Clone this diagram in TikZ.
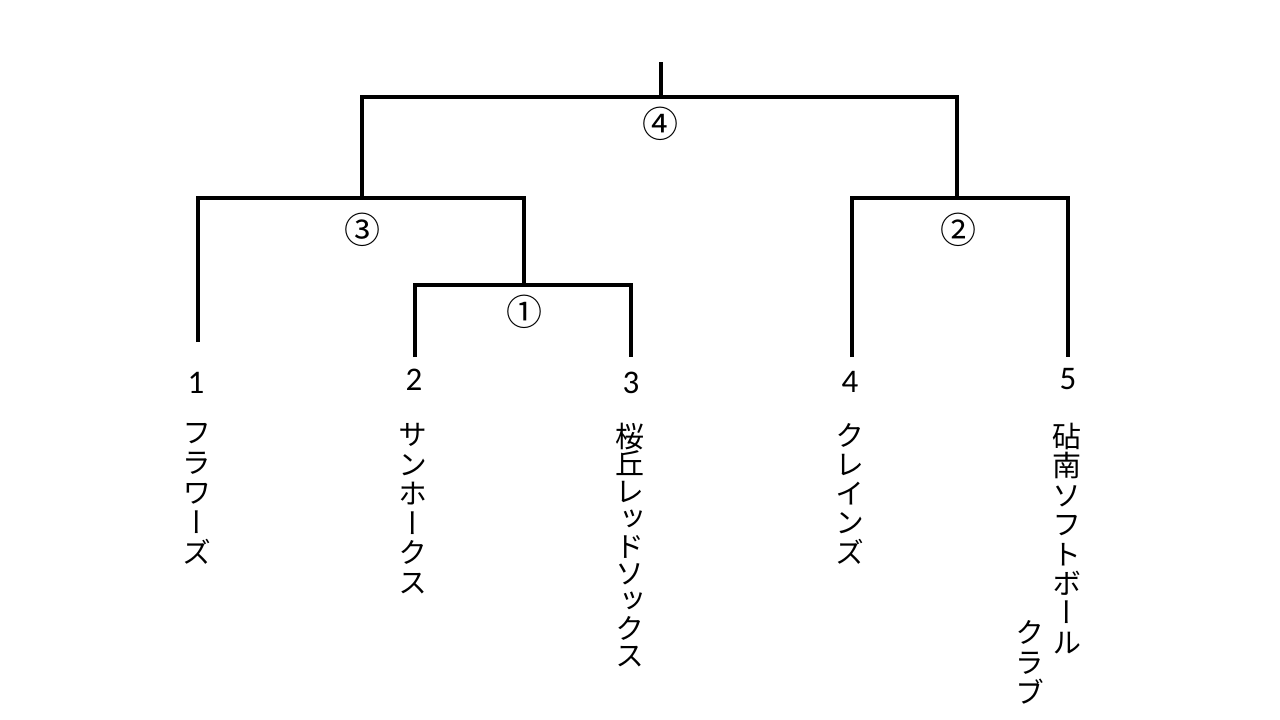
\documentclass[tikz,border=0pt]{standalone}
\usepackage{fontspec}
\newfontfamily\jp{Noto Sans CJK JP}
\newfontfamily\vjp[RawFeature=+vert]{Noto Sans CJK JP}
\newfontfamily\digitfont{Carlito}
\setlength\lineskiplimit{-40pt}
\begin{document}
\begin{tikzpicture}[x=1pt,y=-1pt,
  bracket/.style={line width=4pt, line join=miter, line cap=butt, draw=black},
  num/.style={font=\digitfont\fontsize{33}{33}\selectfont, inner sep=0pt, anchor=center},
  circ/.style={font=\jp\fontsize{36}{36}\selectfont, inner sep=0pt, anchor=center},
  col/.style={font=\vjp\fontsize{29}{#1}\selectfont, align=center, inner sep=0pt, anchor=north}]
\useasboundingbox (0,0) rectangle (1280,720);
\fill[white] (0,0) rectangle (1280,720);
% leaf end points
\coordinate (l1) at (198,342);
\coordinate (l2) at (415,357);
\coordinate (l3) at (631,357);
\coordinate (l4) at (852,357);
\coordinate (l5) at (1068,357);
% junctions
\coordinate (j1) at (524,285);
\coordinate (j3) at (362,198);
\coordinate (j2) at (957,198);
\coordinate (j4) at (661,97);
\coordinate (top) at (661,62);
% brackets
\draw[bracket] (l2) |- (j1) -| (l3);
\draw[bracket] (l1) |- (j3) -| (j1);
\draw[bracket] (l4) |- (j2) -| (l5);
\draw[bracket] (j3) |- (j4) -| (j2);
\draw[bracket] (j4) -- (top);
% round labels
\node[circ] (c4) at (660,124) {④};
\node[circ] (c3) at (362,230) {③};
\node[circ] (c1) at (524,312) {①};
\node[circ] (c2) at (958,230) {②};
% seed numbers
\node[num] (n1) at (196,383) {1};
\node[num] (n2) at (414,380) {2};
\node[num] (n3) at (631,383) {3};
\node[num] (n4) at (850,382) {4};
\node[num] (n5) at (1068,379) {5};
% team names (vertical)
\node[col=30] (t1) at (197,423) {フ\\ラ\\ワ\\ー\\ズ};
\node[col=29.6] (t2) at (413,423) {サ\\ン\\ホ\\ー\\ク\\ス};
\node[col=27.4] (t3) at (630,423) {桜\\丘\\レ\\ッ\\ド\\ソ\\ッ\\ク\\ス};
\node[col=29.2] (t4) at (850,423) {ク\\レ\\イ\\ン\\ズ};
\node[col=29.4] (t5a) at (1067,423) {砧\\南\\ソ\\フ\\ト\\ボ\\ー\\ル};
\node[col=30] (t5b) at (1030,620) {ク\\ラ\\ブ};
\end{tikzpicture}
\end{document}
